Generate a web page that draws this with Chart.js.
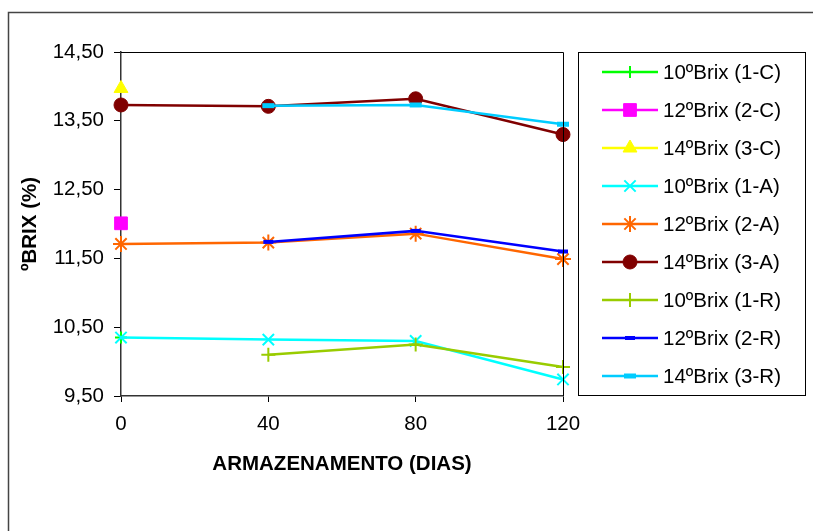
<!DOCTYPE html>
<html>
<head>
<meta charset="utf-8">
<script src="https://cdn.jsdelivr.net/npm/chart.js@4.4.0/dist/chart.umd.min.js"></script>
<style>
  html, body { margin: 0; padding: 0; background: #fff; overflow: hidden; }
  #wrap { width: 813px; height: 531px; }
</style>
</head>
<body>
<div id="wrap"><canvas id="brixChart" width="813" height="531"></canvas></div>
<script>
// storage days
const days = ["0", "40", "80", "120"];

// ºBrix readings per treatment (null = not measured)
const brix1C = [10.35, null, null, null];
const brix2C = [12.01, null, null, null];
const brix3C = [13.97, null, null, null];
const brix1A = [10.35, 10.32, 10.30, 9.74];
const brix2A = [11.71, 11.73, 11.86, 11.49];
const brix3A = [13.73, 13.71, 13.82, 13.30];
const brix1R = [null, 10.10, 10.25, 9.92];
const brix2R = [null, 11.74, 11.90, 11.60];
const brix3R = [null, 13.72, 13.73, 13.45];

const seriesNames = [
  "10ºBrix (1-C)", "12ºBrix (2-C)", "14ºBrix (3-C)",
  "10ºBrix (1-A)", "12ºBrix (2-A)", "14ºBrix (3-A)",
  "10ºBrix (1-R)", "12ºBrix (2-R)", "14ºBrix (3-R)"
];
const seriesValues = [brix1C, brix2C, brix3C, brix1A, brix2A, brix3A, brix1R, brix2R, brix3R];

const FONT = "'Liberation Sans', Arial, sans-serif";

const styles = [
  { color: "#00ff00", point: "cross", r: 6, bw: 2 },
  { color: "#ff00ff", point: "rect", r: 9, bw: 1 },
  { color: "#ffff00", point: "triangle", r: 8, bw: 1 },
  { color: "#00ffff", point: "crossRot", r: 8, bw: 2 },
  { color: "#ff6600", point: "star", r: 8, bw: 2 },
  { color: "#800000", point: "circle", r: 7, bw: 1 },
  { color: "#99cc00", point: "cross", r: 7, bw: 2 },
  { color: "#0000ff", point: "line", r: 5, bw: 4 },
  { color: "#00ccff", point: "line", r: 6, bw: 5 }
];

const datasets = seriesValues.map((vals, i) => ({
  label: seriesNames[i],
  data: vals,
  borderColor: styles[i].color,
  backgroundColor: styles[i].color,
  borderWidth: 2.5,
  pointStyle: styles[i].point,
  pointRadius: styles[i].r,
  pointBorderWidth: styles[i].bw,
  pointBorderColor: styles[i].color,
  pointBackgroundColor: styles[i].color,
  spanGaps: false,
  order: 9 - i
}));

// frame, plot border and the boxed legend
const decor = {
  id: "decor",
  beforeDraw(chart) {
    const ctx = chart.ctx;
    ctx.save();
    ctx.strokeStyle = "#444";
    ctx.lineWidth = 1.5;
    ctx.strokeRect(8.5, 12.5, 900, 600);
    ctx.restore();
  },
  afterDraw(chart) {
    const ctx = chart.ctx;
    const a = chart.chartArea;
    ctx.save();
    ctx.strokeStyle = "#000";
    ctx.lineWidth = 1;
    ctx.beginPath();
    ctx.moveTo(a.left, a.top + 0.5);
    ctx.lineTo(a.right + 0.5, a.top + 0.5);
    ctx.lineTo(a.right + 0.5, a.bottom);
    ctx.stroke();

    ctx.strokeRect(578.5, 52.5, 227, 343);
    ctx.font = "20.5px " + FONT;
    ctx.textBaseline = "middle";
    ctx.textAlign = "left";
    chart.data.datasets.forEach((ds, i) => {
      const y = 72 + i * 38;
      ctx.strokeStyle = ds.borderColor;
      ctx.fillStyle = ds.borderColor;
      ctx.lineWidth = 2.5;
      ctx.beginPath();
      ctx.moveTo(602, y);
      ctx.lineTo(658, y);
      ctx.stroke();
      ctx.lineWidth = ds.pointBorderWidth;
      Chart.helpers.drawPoint(ctx, {
        pointStyle: ds.pointStyle,
        radius: ds.pointRadius,
        rotation: 0,
        borderWidth: ds.pointBorderWidth
      }, 630, y);
      ctx.fillStyle = "#000";
      ctx.fillText(ds.label, 663, y + 1);
    });
    ctx.restore();
  }
};

new Chart(document.getElementById("brixChart"), {
  type: "line",
  data: { labels: days, datasets: datasets },
  options: {
    responsive: false,
    animation: false,
    layout: { padding: { top: 52, right: 250, bottom: 0, left: 0 } },
    plugins: { legend: { display: false }, tooltip: { enabled: false } },
    scales: {
      x: {
        type: "category",
        offset: false,
        grid: { display: true, drawOnChartArea: false, drawTicks: true, tickLength: 6, color: "#000" },
        border: { display: true, color: "#333", width: 1.5 },
        ticks: { color: "#000", font: { family: FONT, size: 20.5 }, padding: 10, maxRotation: 0 },
        title: {
          display: true,
          text: "ARMAZENAMENTO (DIAS)",
          color: "#000",
          font: { family: FONT, size: 20.5, weight: "bold" },
          padding: { top: 0, bottom: 54 }
        },
        afterFit(scale) { scale.height = 135; }
      },
      y: {
        min: 9.5,
        max: 14.5,
        ticks: {
          stepSize: 1,
          color: "#000",
          font: { family: FONT, size: 20.5 },
          padding: 10,
          callback: v => v.toFixed(2).replace(".", ",")
        },
        grid: { display: true, drawOnChartArea: false, drawTicks: true, tickLength: 7, color: "#000" },
        border: { display: true, color: "#333", width: 1.5 },
        title: {
          display: true,
          text: "ºBRIX (%)",
          color: "#000",
          font: { family: FONT, size: 20.5, weight: "bold" },
          padding: { top: 18, bottom: 0 }
        },
        afterFit(scale) { scale.width = 121; }
      }
    }
  },
  plugins: [decor]
});
</script>
</body>
</html>
